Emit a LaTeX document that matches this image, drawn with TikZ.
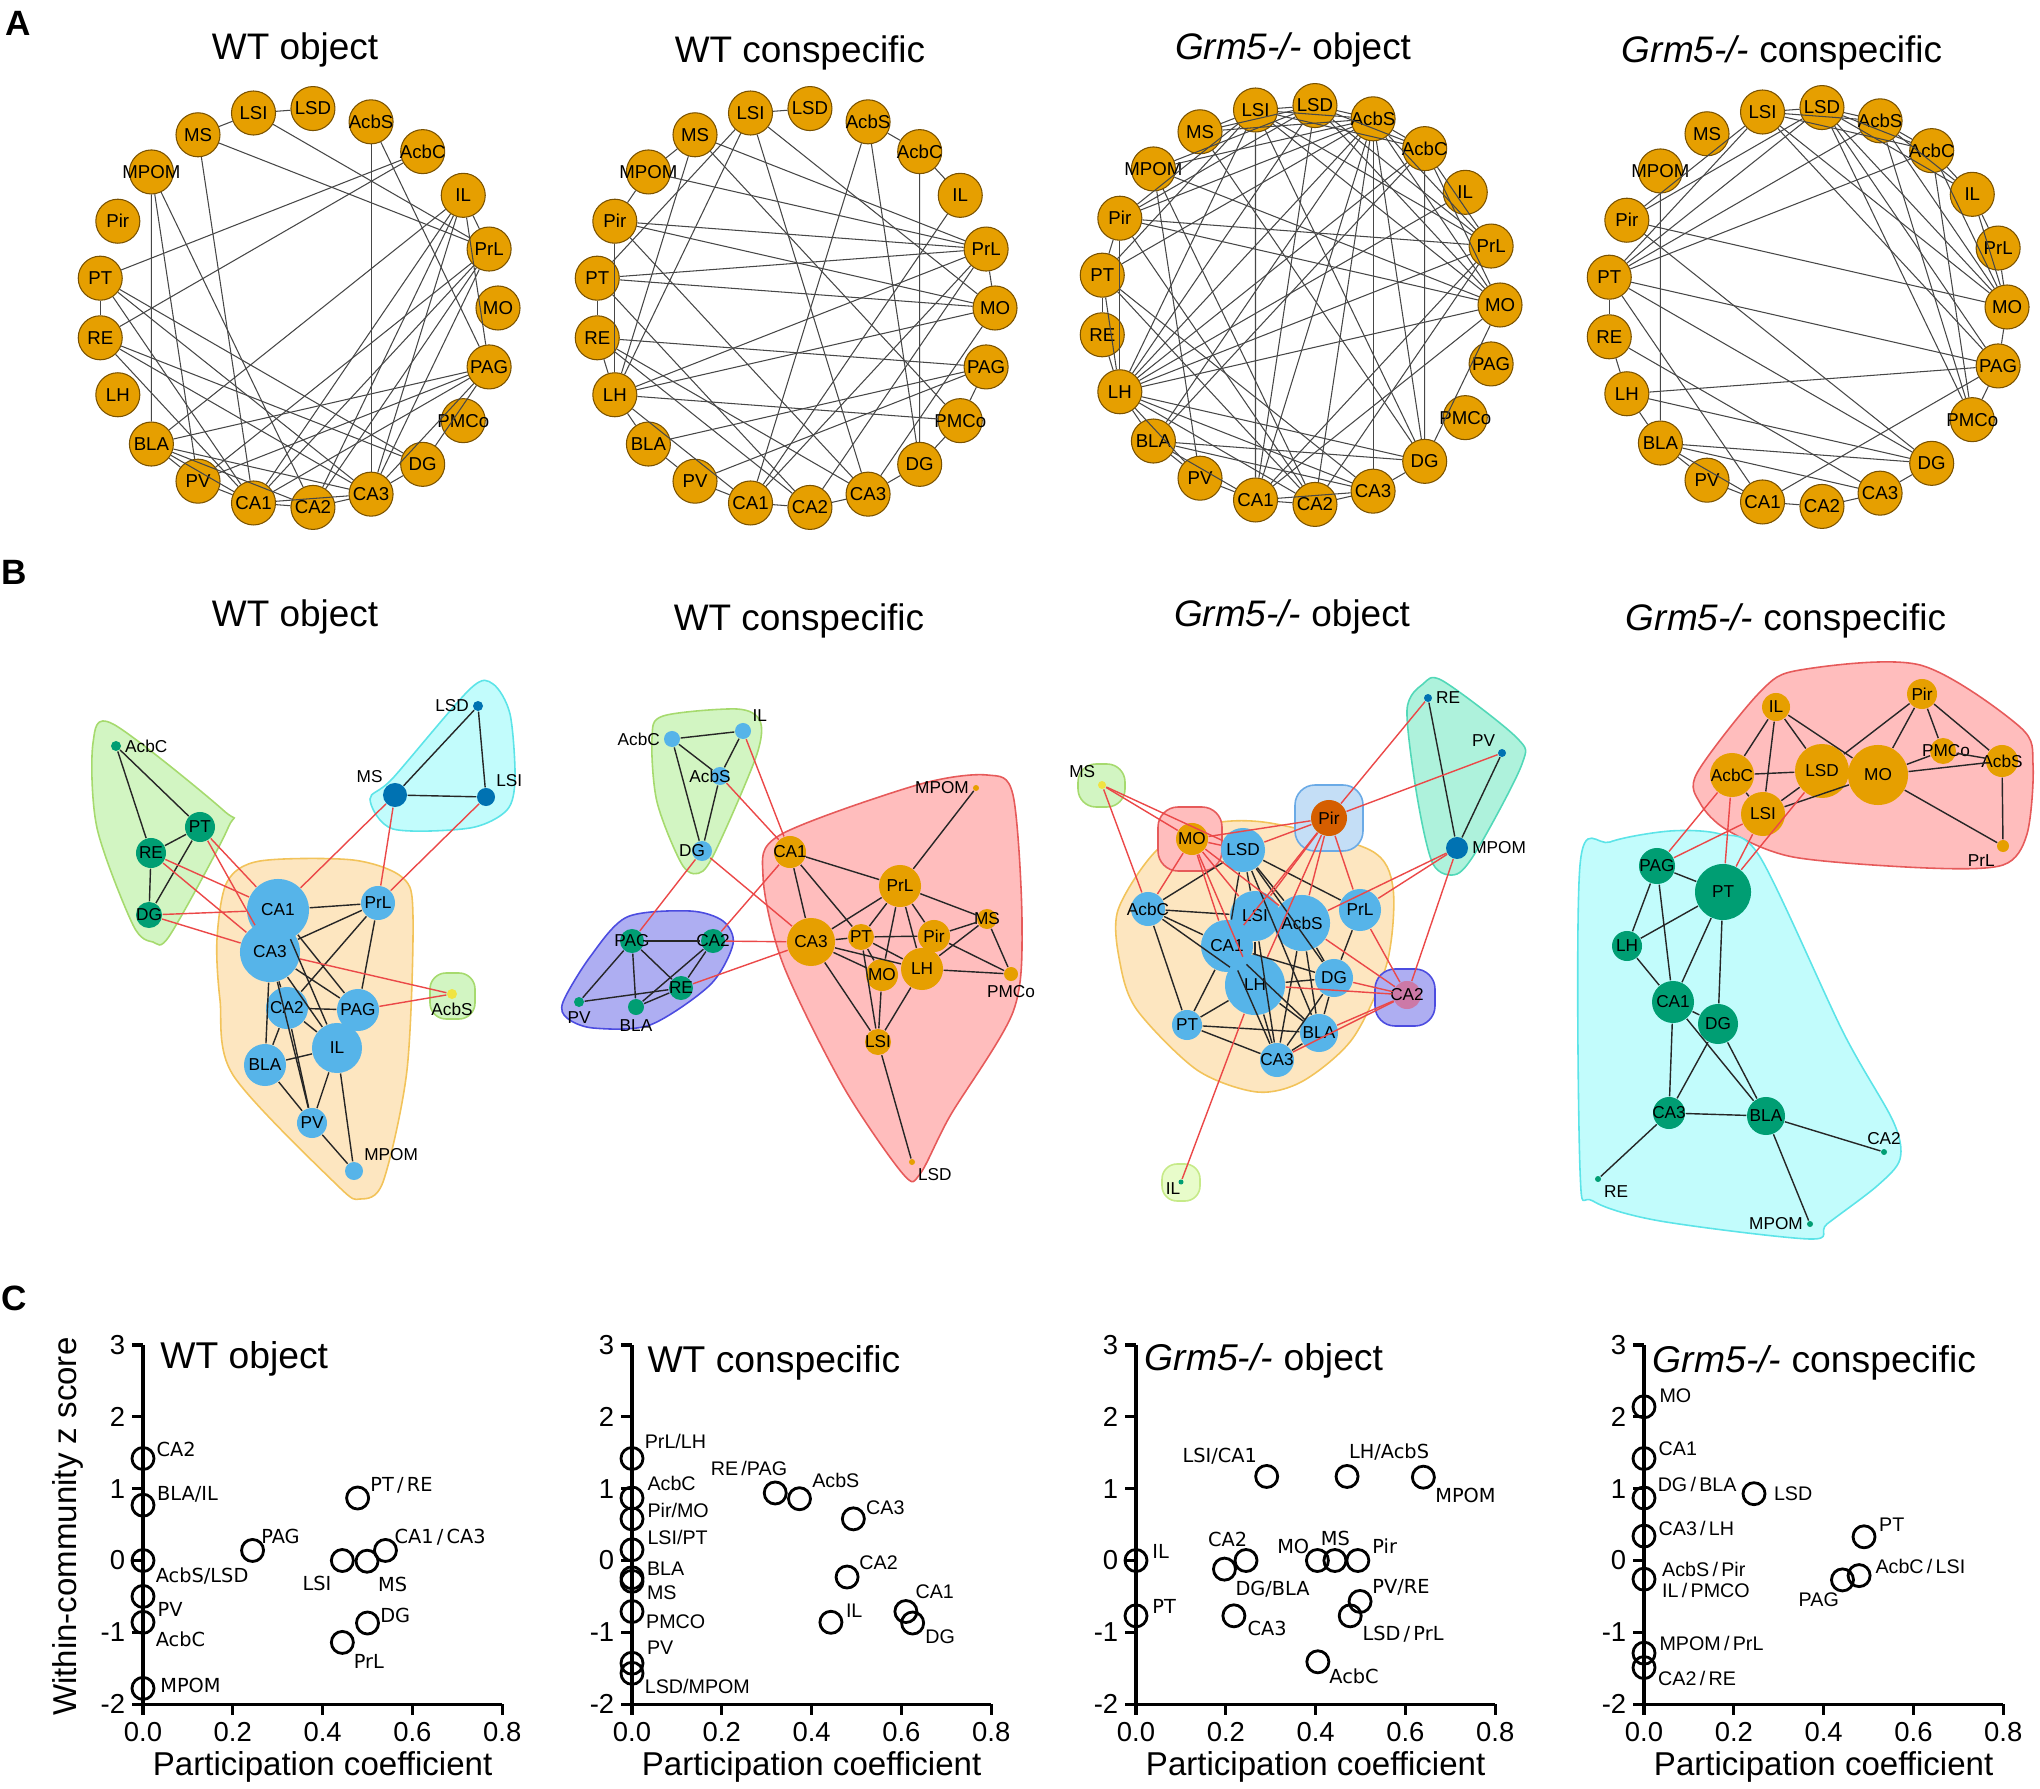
\documentclass[tikz,border=0pt]{standalone}
\usepackage{fontspec}
\setmainfont{Liberation Sans}
\newfontfamily\dejavu{DejaVu Sans}
\definecolor{aorange}{HTML}{E69F00}
\definecolor{abrown}{HTML}{7A5200}
\definecolor{skyb}{HTML}{56B4E9}
\definecolor{bgreen}{HTML}{009E73}
\definecolor{dblue}{HTML}{0072B2}
\definecolor{yell}{HTML}{F0E442}
\definecolor{verm}{HTML}{D55E00}
\definecolor{rpurple}{HTML}{CC79A7}
\definecolor{redline}{HTML}{EB4848}
\definecolor{hgreenF}{HTML}{D2F5C2}
\definecolor{hgreenD}{HTML}{A6DA6E}
\definecolor{hcyanF}{HTML}{C2FCFC}
\definecolor{hcyanD}{HTML}{5CE4E8}
\definecolor{horangeF}{HTML}{FDE6C0}
\definecolor{horangeD}{HTML}{F2C35A}
\definecolor{hredF}{HTML}{FFBDBD}
\definecolor{hredD}{HTML}{E65A5A}
\definecolor{hblueF}{HTML}{AEAEF2}
\definecolor{hblueD}{HTML}{4C4CE0}
\definecolor{htealF}{HTML}{AEF2DC}
\definecolor{htealD}{HTML}{52D8B8}
\definecolor{hskyF}{HTML}{C4DEF6}
\definecolor{hskyD}{HTML}{6AAAE6}
\definecolor{hlimeF}{HTML}{E8FCCA}
\definecolor{hlimeD}{HTML}{C6EA88}

\begin{document}
\begin{tikzpicture}[x=0.01cm, y=-0.01cm,
  anode/.style={circle, draw=abrown, line width=0.3pt, fill=aorange, minimum size=0.44cm, inner sep=0pt,
    label={[font=\fontsize{5.3}{6}\selectfont]center:#1}},
  aedge/.style={draw=black!72, line width=0.3pt},
  bnode/.style={circle, fill=#1, inner sep=0pt},
  bedge/.style={draw=black!85, line width=0.4pt},
  redge/.style={draw=redline, line width=0.4pt},
  hull/.style 2 args={draw=#1, fill=#2, line width=0.45pt},
  every label/.style={font=\fontsize{4.9}{5.5}\selectfont, inner sep=0.8pt},
  ptitle/.style={font=\fontsize{10.5}{12}\selectfont},
  panel/.style={font=\fontsize{10}{12}\selectfont\bfseries},
  plotat/.style={shift={(#1,1560.5)}, x=4.4875cm, y=0.718cm},
  axis/.style={line width=0.9pt},
  ticklab/.style={font=\fontsize{7.8}{9}\selectfont, inner sep=1.5pt},
  axtitle/.style={font=\fontsize{9.4}{11}\selectfont},
  ctitle/.style={anchor=west, inner sep=0pt, font=\fontsize{10.6}{12}\selectfont},
  ring/.style={line width=0.8pt},
  plab/.style={anchor=west, inner sep=0pt, font=\dejavu\fontsize{5.5}{6}\selectfont},
  plabb/.style={anchor=west, inner sep=0pt, font=\fontsize{5.6}{6}\selectfont}]
\useasboundingbox (0,0) rectangle (2040,1789);

% panel letters
\node[panel] (lA) at (18,23) {A};
\node[panel] (lB) at (14,572) {B};
\node[panel] (lC) at (14,1298) {C};

% ---------------- row A: circle layouts
\node[ptitle] (tA1) at (295,50) {WT object};
\node[ptitle] (tA2) at (800,53) {WT conspecific};
\node[ptitle] (tA3) at (1293,50) {\textit{Grm5-/-} object};
\node[ptitle] (tA4) at (1782,53) {\textit{Grm5-/-} conspecific};
\foreach \p/\cx/\cy in {A1/298/308, A2/795/308, A3/1300/305, A4/1807/307}
  \foreach \n [count=\k from 0] in {MO,PrL,IL,AcbC,AcbS,LSD,LSI,MS,MPOM,Pir,PT,RE,LH,BLA,PV,CA1,CA2,CA3,DG,PMCo,PAG}
    \node[anode=\n] (\p\n) at ({\cx+200*cos(-\k*360/21)},{\cy+200*sin(-\k*360/21)}) {};

\foreach \a/\b in {LSI/LSD, MS/LSI, LSI/PrL, MS/PrL, MS/CA1, AcbS/CA3, AcbS/PAG, AcbC/PT, AcbC/RE,
  MPOM/BLA, MPOM/PV, MPOM/CA2, IL/PrL, IL/PAG, IL/BLA, IL/CA1, IL/CA2, IL/CA3, PrL/CA1, PrL/CA2,
  PrL/CA3, PrL/PV, PAG/BLA, PAG/PV, PAG/CA1, PAG/CA3, PAG/DG, PT/RE, PT/CA1, PT/DG, PT/CA3,
  RE/CA1, RE/CA3, RE/DG, BLA/CA1, BLA/CA2, BLA/CA3, BLA/PV, PV/CA1, CA1/CA2, CA2/CA3, CA1/CA3, CA3/DG}
  \draw[aedge] (A1\a) -- (A1\b);
\foreach \a/\b in {LSI/LSD, MS/MPOM, MPOM/Pir, LSI/LH, LSI/PT, LSI/CA3, LSI/MO, MS/LH, MS/PrL, MS/PMCo,
  MPOM/PrL, AcbS/AcbC, AcbC/IL, AcbS/CA1, AcbS/DG, AcbC/DG, IL/CA1, Pir/PrL, Pir/MO, Pir/CA3, Pir/LH,
  PT/PrL, PT/MO, PT/CA2, PT/RE, RE/PAG, RE/LH, RE/CA2, RE/CA3, LH/PrL, LH/MO, LH/PMCo, LH/BLA,
  LH/CA1, BLA/PAG, BLA/PV, PV/PAG, PV/CA1, CA1/CA2, CA2/CA3, CA3/DG, CA1/PrL, CA2/PrL, CA3/MO,
  PAG/PMCo, PrL/MO, DG/PMCo}
  \draw[aedge] (A2\a) -- (A2\b);
\foreach \a/\b in {LSI/LSD, LSI/MS, LSI/AcbS, LSD/AcbS, AcbS/AcbC, LSD/AcbC, LSI/AcbC, MS/AcbS, MS/LSD,
  MPOM/LSD, MPOM/AcbS, MPOM/MO, MPOM/CA2, MPOM/PV, Pir/LSI, Pir/LSD, Pir/AcbS, Pir/PrL, Pir/MO, Pir/PT,
  Pir/LH, Pir/CA2, PT/RE, PT/LH, PT/AcbS, PT/LSI, PT/CA2, PT/CA3, RE/LH, LH/LSI, LH/LSD, LH/AcbS,
  LH/AcbC, LH/IL, LH/PrL, LH/MO, LH/DG, LH/CA3, LH/CA2, LH/BLA, LH/PV, BLA/AcbS, BLA/AcbC, BLA/DG,
  BLA/CA3, BLA/CA1, BLA/PV, CA1/LSI, CA1/LSD, CA1/AcbS, CA1/PrL, CA1/MO, CA1/CA2, CA1/CA3, CA2/CA3,
  CA2/AcbS, CA2/PrL, CA3/AcbS, CA3/DG, DG/AcbS, DG/AcbC, DG/MO, DG/LSI, AcbC/PrL, AcbC/MO, AcbS/PrL,
  AcbS/MO, LSD/PrL, LSD/MO, LSI/MO, LSI/PrL, PV/CA1, MS/DG}
  \draw[aedge] (A3\a) -- (A3\b);
\foreach \a/\b in {LSI/LSD, LSI/AcbS, LSI/AcbC, LSI/MO, LSI/PAG, LSI/Pir, LSI/PT, LSD/AcbS, LSD/AcbC,
  LSD/IL, LSD/MO, LSD/PAG, LSD/PMCo, LSD/Pir, LSD/PT, AcbS/AcbC, AcbS/IL, AcbS/MO, AcbS/PMCo, AcbS/PT,
  AcbC/IL, AcbC/MO, AcbC/PMCo, AcbC/PT, IL/PrL, IL/MO, PrL/MO, MO/PAG, PAG/PMCo, Pir/MO, Pir/DG,
  PT/RE, PT/PAG, PT/DG, PT/CA1, RE/LH, RE/CA3, LH/BLA, LH/PAG, LH/DG, MPOM/BLA, BLA/PV, BLA/CA1,
  BLA/DG, BLA/CA3, PV/CA1, CA1/CA2, CA2/CA3, CA3/DG, CA1/PAG}
  \draw[aedge] (A4\a) -- (A4\b);

% ---------------- row B: communities
\node[ptitle] (tB1) at (295,617) {WT object};
\node[ptitle] (tB2) at (799,621) {WT conspecific};
\node[ptitle] (tB3) at (1292,617) {\textit{Grm5-/-} object};
\node[ptitle] (tB4) at (1786,621) {\textit{Grm5-/-} conspecific};

% B1
\draw[hull={hgreenD}{hgreenF}] plot[smooth cycle] coordinates {(93,743) (113,724) (223,810) (228,828)
  (170,935) (153,942) (133,925) (97,828)};
\draw[hull={hcyanD}{hcyanF}] plot[smooth cycle] coordinates {(370,799) (393,778) (470,689) (493,684)
  (510,714) (515,778) (507,810) (470,828) (393,829)};
\draw[hull={horangeD}{horangeF}] plot[smooth cycle] coordinates {(217,939) (227,882) (260,861) (353,860)
  (403,878) (413,917) (407,1070) (383,1182) (360,1199) (337,1185) (233,1075) (220,1000)};
\draw[hull={hgreenD}{hgreenF}, rounded corners=0.16cm] (430,973) rectangle (475,1019);
\node[bnode=bgreen, minimum size=0.10cm, label=right:AcbC] (B1AcbC) at (116,746) {};
\node[bnode=bgreen, minimum size=0.30cm, label=center:PT] (B1PT) at (200,827) {};
\node[bnode=bgreen, minimum size=0.30cm, label=center:RE] (B1RE) at (151,853) {};
\node[bnode=bgreen, minimum size=0.26cm, label=center:DG] (B1DG) at (149,915) {};
\node[bnode=dblue, minimum size=0.10cm, label=left:LSD] (B1LSD) at (478,706) {};
\node[bnode=dblue, minimum size=0.24cm, label=above left:MS] (B1MS) at (395,795) {};
\node[bnode=dblue, minimum size=0.18cm, label=above right:LSI] (B1LSI) at (486,797) {};
\node[bnode=skyb, minimum size=0.60cm, label=center:CA3] (B1CA3) at (270,952) {};
\node[bnode=skyb, minimum size=0.62cm, label=center:CA1] (B1CA1) at (278,910) {};
\node[bnode=skyb, minimum size=0.34cm, label=center:PrL] (B1PrL) at (378,903) {};
\node[bnode=skyb, minimum size=0.42cm, label=center:CA2] (B1CA2) at (287,1008) {};
\node[bnode=skyb, minimum size=0.42cm, label=center:PAG] (B1PAG) at (358,1010) {};
\node[bnode=skyb, minimum size=0.50cm, label=center:IL] (B1IL) at (337,1048) {};
\node[bnode=skyb, minimum size=0.42cm, label=center:BLA] (B1BLA) at (265,1065) {};
\node[bnode=skyb, minimum size=0.30cm, label=center:PV] (B1PV) at (312,1123) {};
\node[bnode=skyb, minimum size=0.18cm, label=above right:MPOM] (B1MPOM) at (354,1171) {};
\node[bnode=yell, minimum size=0.10cm, label=below:AcbS] (B1AcbS) at (452,994) {};
\foreach \a/\b in {AcbC/RE, AcbC/PT, PT/RE, RE/DG, PT/DG, LSD/MS, LSD/LSI, MS/LSI, CA1/PrL, CA3/PrL,
  CA3/CA2, CA3/BLA, CA3/PAG, CA3/IL, CA3/PV, CA1/PAG, CA1/IL, CA2/PrL, PrL/PAG, CA2/PAG, CA2/IL,
  CA2/BLA, CA2/PV, BLA/IL, BLA/PV, IL/PV, IL/MPOM, PV/MPOM}
  \draw[bedge] (B1\a) -- (B1\b);
\foreach \a/\b in {PT/CA1, PT/CA3, RE/CA1, RE/CA3, DG/CA1, DG/CA3, MS/CA1, MS/PrL, LSI/PrL, CA3/AcbS, PAG/AcbS}
  \draw[redge] (B1\a) -- (B1\b);

% B2
\draw[hull={hgreenD}{hgreenF}] plot[smooth cycle] coordinates {(652,738) (663,716) (737,709) (760,721)
  (757,754) (723,835) (703,871) (683,866) (657,802)};
\draw[hull={hblueD}{hblueF}] plot[smooth cycle] coordinates {(563,1002) (590,957) (627,917) (690,911)
  (723,921) (733,944) (710,985) (650,1025) (593,1028) (567,1018)};
\draw[hull={hredD}{hredF}] plot[smooth cycle] coordinates {(763,876) (780,835) (917,785) (987,775)
  (1013,795) (1022,924) (1013,1012) (950,1116) (920,1174) (903,1174) (843,1086) (783,964)};
\node[bnode=skyb, minimum size=0.16cm, label=left:AcbC] (B2AcbC) at (672,739) {};
\node[bnode=skyb, minimum size=0.16cm, label=above right:IL] (B2IL) at (743,731) {};
\node[bnode=skyb, minimum size=0.18cm, label={[xshift=-0.1cm]center:AcbS}] (B2AcbS) at (720,776) {};
\node[bnode=skyb, minimum size=0.20cm, label={[xshift=-0.1cm]center:DG}] (B2DG) at (702,851) {};
\node[bnode=aorange, minimum size=0.06cm, label=left:MPOM] (B2MPOM) at (976,788) {};
\node[bnode=aorange, minimum size=0.32cm, label=center:CA1] (B2CA1) at (790,852) {};
\node[bnode=aorange, minimum size=0.42cm, label=center:PrL] (B2PrL) at (900,886) {};
\node[bnode=aorange, minimum size=0.20cm, label=center:MS] (B2MS) at (987,919) {};
\node[bnode=aorange, minimum size=0.48cm, label=center:CA3] (B2CA3) at (811,942) {};
\node[bnode=aorange, minimum size=0.26cm, label=center:PT] (B2PT) at (861,937) {};
\node[bnode=aorange, minimum size=0.32cm, label=center:Pir] (B2Pir) at (934,936) {};
\node[bnode=aorange, minimum size=0.42cm, label=center:LH] (B2LH) at (922,969) {};
\node[bnode=aorange, minimum size=0.32cm, label=center:MO] (B2MO) at (882,975) {};
\node[bnode=aorange, minimum size=0.14cm, label=below:PMCo] (B2PMCo) at (1011,974) {};
\node[bnode=aorange, minimum size=0.26cm, label=center:LSI] (B2LSI) at (878,1042) {};
\node[bnode=aorange, minimum size=0.06cm, label=below right:LSD] (B2LSD) at (912,1162) {};
\node[bnode=bgreen, minimum size=0.24cm, label=center:PAG] (B2PAG) at (632,941) {};
\node[bnode=bgreen, minimum size=0.24cm, label=center:CA2] (B2CA2) at (713,941) {};
\node[bnode=bgreen, minimum size=0.24cm, label=center:RE] (B2RE) at (681,988) {};
\node[bnode=bgreen, minimum size=0.10cm, label=below:PV] (B2PV) at (579,1002) {};
\node[bnode=bgreen, minimum size=0.16cm, label=below:BLA] (B2BLA) at (636,1007) {};
\foreach \a/\b in {AcbC/IL, AcbC/AcbS, AcbC/DG, IL/AcbS, AcbS/DG, PAG/CA2, PAG/PV, PAG/BLA, PAG/RE,
  CA2/RE, CA2/BLA, RE/BLA, PV/RE, CA1/PrL, CA1/CA3, CA1/PT, PrL/MPOM, PrL/MS, PrL/CA3, PrL/PT, PrL/MO,
  PrL/LH, PrL/Pir, CA3/PT, CA3/MO, CA3/LH, CA3/LSI, PT/Pir, PT/LSI, PT/LH, PT/MO, MO/LSI, LH/LSI,
  LH/PMCo, Pir/MS, Pir/PMCo, MS/PMCo, MS/LH, LSI/LSD}
  \draw[bedge] (B2\a) -- (B2\b);
\foreach \a/\b in {AcbS/CA1, IL/CA1, DG/CA3, DG/PAG, CA2/CA1, CA2/CA3, RE/CA3}
  \draw[redge] (B2\a) -- (B2\b);

% B3
\draw[hull={htealD}{htealF}] plot[smooth cycle] coordinates {(1407,710) (1423,684) (1443,681) (1517,738)
  (1522,764) (1480,845) (1457,874) (1433,864) (1417,796)};
\draw[hull={horangeD}{horangeF}] plot[smooth cycle] coordinates {(1118,910) (1157,850) (1210,824)
  (1270,823) (1370,850) (1393,888) (1387,963) (1353,1038) (1303,1081) (1257,1092) (1197,1070)
  (1137,1010) (1120,963)};
\draw[hull={hgreenD}{hgreenF}, rounded corners=0.18cm] (1078,764) rectangle (1125,807);
\draw[hull={hredD}{hredF}, rounded corners=0.2cm] (1158,807) rectangle (1222,871);
\draw[hull={hskyD}{hskyF}, rounded corners=0.2cm] (1295,785) rectangle (1363,851);
\draw[hull={hblueD}{hblueF}, rounded corners=0.2cm] (1375,969) rectangle (1435,1026);
\draw[hull={hlimeD}{hlimeF}, rounded corners=0.15cm] (1162,1164) rectangle (1200,1201);
\node[bnode=yell, minimum size=0.08cm, label=above left:MS] (B3MS) at (1102,785) {};
\node[bnode=aorange, minimum size=0.32cm, label=center:MO] (B3MO) at (1192,839) {};
\node[bnode=verm, minimum size=0.36cm, label=center:Pir] (B3Pir) at (1329,818) {};
\node[bnode=dblue, minimum size=0.08cm, label=right:RE] (B3RE) at (1428,698) {};
\node[bnode=dblue, minimum size=0.08cm, label=above left:PV] (B3PV) at (1502,753) {};
\node[bnode=dblue, minimum size=0.22cm, label=right:MPOM] (B3MPOM) at (1457,848) {};
\node[bnode=skyb, minimum size=0.44cm, label=center:LSD] (B3LSD) at (1243,850) {};
\node[bnode=skyb, minimum size=0.34cm, label=center:AcbC] (B3AcbC) at (1148,909) {};
\node[bnode=skyb, minimum size=0.50cm, label=center:LSI] (B3LSI) at (1255,916) {};
\node[bnode=skyb, minimum size=0.56cm, label=center:AcbS] (B3AcbS) at (1302,923) {};
\node[bnode=skyb, minimum size=0.42cm, label=center:PrL] (B3PrL) at (1360,910) {};
\node[bnode=skyb, minimum size=0.52cm, label=center:CA1] (B3CA1) at (1227,946) {};
\node[bnode=skyb, minimum size=0.60cm, label=center:LH] (B3LH) at (1255,985) {};
\node[bnode=skyb, minimum size=0.38cm, label=center:DG] (B3DG) at (1334,978) {};
\node[bnode=rpurple, minimum size=0.28cm, label=center:CA2] (B3CA2) at (1407,995) {};
\node[bnode=skyb, minimum size=0.30cm, label=center:PT] (B3PT) at (1187,1025) {};
\node[bnode=skyb, minimum size=0.38cm, label=center:BLA] (B3BLA) at (1319,1033) {};
\node[bnode=skyb, minimum size=0.34cm, label=center:CA3] (B3CA3) at (1277,1060) {};
\node[bnode=bgreen, minimum size=0.05cm, label={[xshift=-0.08cm, yshift=-0.07cm]center:IL}] (B3IL) at (1181,1182) {};
\foreach \a/\b in {RE/MPOM, PV/MPOM, AcbC/LSD, AcbC/LSI, AcbC/CA1, AcbC/PT, AcbC/LH, LSD/LSI, LSD/CA1,
  LSD/AcbS, LSD/PrL, LSD/DG, LSD/BLA, AcbS/DG, AcbS/BLA, AcbS/CA3, LH/PT, LH/DG, LH/BLA, LH/CA3,
  PT/BLA, PT/CA3, PrL/DG, DG/BLA, DG/CA3, BLA/CA3, CA1/CA3, CA1/BLA, CA1/DG, CA1/PT, LSI/LH, LSI/CA3}
  \draw[bedge] (B3\a) -- (B3\b);
\foreach \a/\b in {MS/MO, MS/LSD, MS/AcbC, MO/AcbC, MO/LSD, MO/LSI, MO/CA1, MO/AcbS, MO/LH, MO/Pir,
  Pir/LSD, Pir/LSI, Pir/AcbS, Pir/CA1, Pir/PrL, Pir/RE, Pir/PV, Pir/LH, MPOM/PrL, MPOM/AcbS, MPOM/CA2,
  CA2/PrL, CA2/AcbS, CA2/DG, CA2/LH, CA2/BLA, CA2/CA3, IL/LH}
  \draw[redge] (B3\a) -- (B3\b);

% B4
\draw[hull={hredD}{hredF}] plot[smooth cycle] coordinates {(1697,773) (1760,692) (1800,670) (1920,665)
  (2020,727) (2033,765) (2027,834) (2003,865) (1927,868) (1793,857) (1727,830) (1700,803)};
\draw[hull={hcyanD}{hcyanF}] plot[smooth cycle] coordinates {(1580,865) (1610,842) (1670,831) (1720,834)
  (1760,857) (1843,1032) (1893,1121) (1900,1159) (1877,1186) (1827,1224) (1810,1239) (1660,1221)
  (1593,1201) (1580,1170)};
\node[bnode=aorange, minimum size=0.28cm, label=center:IL] (B4IL) at (1776,707) {};
\node[bnode=aorange, minimum size=0.30cm, label=center:Pir] (B4Pir) at (1922,694) {};
\node[bnode=aorange, minimum size=0.44cm, label=center:AcbC] (B4AcbC) at (1732,775) {};
\node[bnode=aorange, minimum size=0.54cm, label=center:LSD] (B4LSD) at (1822,771) {};
\node[bnode=aorange, minimum size=0.60cm, label=center:MO] (B4MO) at (1878,775) {};
\node[bnode=aorange, minimum size=0.26cm, label={[xshift=0.03cm]center:PMCo}] (B4PMCo) at (1943,751) {};
\node[bnode=aorange, minimum size=0.32cm, label=center:AcbS] (B4AcbS) at (2002,761) {};
\node[bnode=aorange, minimum size=0.44cm, label=center:LSI] (B4LSI) at (1763,814) {};
\node[bnode=aorange, minimum size=0.12cm, label=below left:PrL] (B4PrL) at (2003,846) {};
\node[bnode=bgreen, minimum size=0.36cm, label=center:PAG] (B4PAG) at (1657,866) {};
\node[bnode=bgreen, minimum size=0.56cm, label=center:PT] (B4PT) at (1723,892) {};
\node[bnode=bgreen, minimum size=0.30cm, label=center:LH] (B4LH) at (1627,946) {};
\node[bnode=bgreen, minimum size=0.42cm, label=center:CA1] (B4CA1) at (1673,1002) {};
\node[bnode=bgreen, minimum size=0.40cm, label=center:DG] (B4DG) at (1718,1024) {};
\node[bnode=bgreen, minimum size=0.32cm, label=center:CA3] (B4CA3) at (1669,1113) {};
\node[bnode=bgreen, minimum size=0.38cm, label=center:BLA] (B4BLA) at (1766,1116) {};
\node[bnode=bgreen, minimum size=0.06cm, label=above:CA2] (B4CA2) at (1884,1152) {};
\node[bnode=bgreen, minimum size=0.06cm, label=below right:RE] (B4RE) at (1598,1179) {};
\node[bnode=bgreen, minimum size=0.06cm, label=left:MPOM] (B4MPOM) at (1810,1224) {};
\foreach \a/\b in {IL/AcbC, IL/LSI, IL/LSD, IL/MO, Pir/LSD, Pir/MO, Pir/PMCo, Pir/AcbS, AcbC/LSD,
  AcbC/LSI, LSD/LSI, LSI/MO, MO/PMCo, MO/AcbS, PMCo/AcbS, MO/PrL, AcbS/PrL, PAG/PT, PAG/LH, PAG/CA1,
  PT/LH, PT/CA1, PT/DG, LH/CA1, CA1/DG, CA1/CA3, CA1/BLA, DG/CA3, DG/BLA, CA3/BLA, CA3/RE, BLA/CA2,
  BLA/MPOM}
  \draw[bedge] (B4\a) -- (B4\b);
\foreach \a/\b in {AcbC/PAG, AcbC/PT, LSI/PAG, LSI/PT, LSD/PT}
  \draw[redge] (B4\a) -- (B4\b);

% ---------------- row C: hub plots
\foreach \p/\ox in {C1/143, C2/632, C3/1136, C4/1644} {
  \begin{scope}[plotat=\ox]
    \draw[axis] (0,3) -- (0,-2) -- (0.8,-2);
    \foreach \v [count=\i] in {-2,...,3}
      \draw[axis] (0,\v) -- ++(-0.11cm,0) node[ticklab, left] (\p yt\i) {\v};
    \foreach \v [count=\i] in {0.0,0.2,0.4,0.6,0.8}
      \draw[axis] (\v,-2) -- ++(0,-0.11cm) node[ticklab, below] (\p xt\i) {\v};
    \node[axtitle] (\p xl) at (0.4,-2.88) {Participation coefficient};
  \end{scope}}

\begin{scope}[plotat=143]
  \node[axtitle, rotate=90] (C1yl) at (-0.167,0.47) {Within-community z score};
  \node[ctitle] (C1t) at (0.037,2.80) {WT object};
  \foreach \x/\y in {0/1.42, 0/0.77, 0/0, 0/-0.5, 0/-0.86, 0/-1.78, 0.244/0.14, 0.478/0.87, 0.444/0,
    0.499/-0.01, 0.54/0.14, 0.5/-0.87, 0.444/-1.14}
    \draw[ring] (\x,\y) circle[radius=0.11cm];
  \foreach \x/\y/\t [count=\i] in {0.029/1.54/CA2, 0.03/0.92/{BLA/IL}, 0.027/-0.22/{AcbS/LSD},
    0.031/-0.68/PV, 0.027/-1.09/AcbC, 0.037/-1.74/MPOM, 0.262/0.34/PAG, 0.505/1.04/{PT\,/\,RE},
    0.354/-0.32/LSI, 0.522/-0.33/MS, 0.559/0.33/{CA1\,/\,CA3}, 0.527/-0.77/DG, 0.468/-1.40/PrL}
    \node[plab] (C1l\i) at (\x,\y) {\t};
\end{scope}

\begin{scope}[plotat=632]
  \node[ctitle] (C2t) at (0.033,2.75) {WT conspecific};
  \foreach \x/\y in {0/1.42, 0/0.87, 0/0.58, 0/0.15, 0/-0.24, 0/-0.29, 0/-0.71, 0/-1.43, 0/-1.57,
    0.319/0.94, 0.373/0.86, 0.493/0.58, 0.479/-0.23, 0.443/-0.86, 0.61/-0.71, 0.625/-0.87}
    \draw[ring] (\x,\y) circle[radius=0.11cm];
  \foreach \x/\y/\t [count=\i] in {0.027/1.66/{PrL/LH}, 0.174/1.28/{RE\,/PAG}, 0.033/1.07/AcbC,
    0.40/1.11/AcbS, 0.033/0.70/{Pir/MO}, 0.52/0.73/CA3, 0.033/0.32/{LSI/PT}, 0.032/-0.12/BLA,
    0.505/-0.03/CA2, 0.032/-0.45/MS, 0.63/-0.44/CA1, 0.475/-0.70/IL, 0.03/-0.85/PMCO, 0.652/-1.06/DG,
    0.032/-1.22/PV, 0.027/-1.75/{LSD/MPOM}}
    \node[plabb] (C2l\i) at (\x,\y) {\t};
\end{scope}

\begin{scope}[plotat=1136]
  \node[ctitle] (C3t) at (0.018,2.78) {\textit{Grm5-/-} object};
  \foreach \x/\y in {0/0, 0/-0.77, 0.291/1.17, 0.47/1.17, 0.64/1.16, 0.245/0, 0.197/-0.12, 0.218/-0.77,
    0.404/0, 0.443/0, 0.494/0, 0.499/-0.57, 0.477/-0.77, 0.405/-1.41}
    \draw[ring] (\x,\y) circle[radius=0.11cm];
  \foreach \x/\y/\t [count=\i] in {0.035/0.13/IL, 0.035/-0.64/PT, 0.102/1.45/{LSI/CA1},
    0.473/1.51/{LH/AcbS}, 0.665/0.90/MPOM, 0.159/0.30/CA2, 0.22/-0.40/{DG/BLA}, 0.247/-0.94/CA3,
    0.313/0.20/MO, 0.41/0.31/MS, 0.525/0.20/Pir, 0.525/-0.38/{PV/RE}, 0.503/-1.03/{LSD\,/\,PrL},
    0.429/-1.61/AcbC}
    \node[plab] (C3l\i) at (\x,\y) {\t};
\end{scope}

\begin{scope}[plotat=1644]
  \node[ctitle] (C4t) at (0.018,2.75) {\textit{Grm5-/-} conspecific};
  \foreach \x/\y in {0/2.14, 0/1.42, 0/0.87, 0/0.34, 0/-0.26, 0/-1.29, 0/-1.49, 0.245/0.93, 0.49/0.33,
    0.479/-0.21, 0.442/-0.27}
    \draw[ring] (\x,\y) circle[radius=0.11cm];
  \foreach \x/\y/\t [count=\i] in {0.033/2.29/MO, 0.031/1.55/CA1, 0.029/1.06/{DG\,/\,BLA},
    0.288/0.93/LSD, 0.031/0.45/{CA3\,/\,LH}, 0.522/0.50/PT, 0.039/-0.12/{AcbS\,/\,Pir},
    0.514/-0.08/{AcbC\,/\,LSI}, 0.039/-0.42/{IL\,/\,PMCO}, 0.343/-0.54/PAG,
    0.033/-1.15/{MPOM\,/\,PrL}, 0.03/-1.64/{CA2\,/\,RE}}
    \node[plabb] (C4l\i) at (\x,\y) {\t};
\end{scope}
\end{tikzpicture}
\end{document}
